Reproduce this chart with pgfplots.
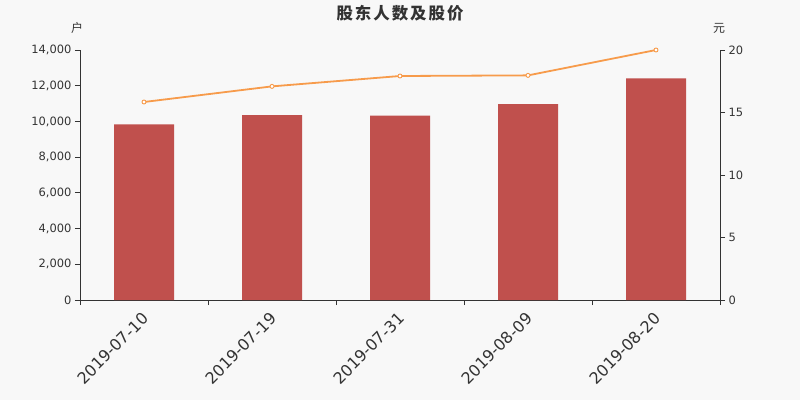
\documentclass[border=0pt]{standalone}
\usepackage{fontspec}
\setmainfont{DejaVu Sans}
\newfontfamily\cjk{Noto Sans CJK SC}
\usepackage{pgfplots}
\pgfplotsset{compat=1.18}
\definecolor{bg}{HTML}{F8F8F8}
\definecolor{barred}{HTML}{C0504D}
\definecolor{lineorange}{HTML}{F79B4B}
\definecolor{txt}{HTML}{333333}
\begin{document}
\begin{tikzpicture}[x=1bp,y=1bp]
\fill[bg] (-80,-100) rectangle (720,300);
\useasboundingbox (-80,-100) rectangle (720,300);
\begin{axis}[
    at={(0,0)}, anchor=south west,
    scale only axis,
    width=640bp, height=250bp,
    xmin=-0.5, xmax=4.5,
    ymin=0, ymax=14000,
    axis x line*=bottom,
    axis y line*=left,
    axis line style={txt, line width=0.8pt},
    tick align=outside,
    xtick={0,1,2,3,4},
    xticklabels={2019-07-10,2019-07-19,2019-07-31,2019-08-09,2019-08-20},
    major x tick style={draw=none},
    minor xtick={-0.5,0.5,1.5,2.5,3.5,4.5},
    minor tick length=5bp,
    minor x tick style={txt, line width=0.8pt},
    x tick label style={rotate=45, anchor=north east, font=\fontsize{16}{16}\selectfont, text=txt, yshift=1bp, xshift=-3bp},
    ytick={0,2000,...,14000},
    major tick length=5bp,
    y tick style={txt, line width=0.8pt},
    y tick label style={font=\fontsize{11.5}{12}\selectfont, text=txt},
    /pgf/number format/assume math mode=true,
    /pgf/number format/1000 sep={,},
    scaled y ticks=false,
    clip=false,
]
\addplot[ybar, bar width=60bp, fill=barred, draw=none] coordinates {
    (0,9840) (1,10360) (2,10320) (3,10976) (4,12410)
};
\end{axis}
\begin{axis}[
    at={(0,0)}, anchor=south west,
    scale only axis,
    width=640bp, height=250bp,
    xmin=-0.5, xmax=4.5,
    ymin=0, ymax=20,
    axis x line=none,
    axis y line*=right,
    axis line style={txt, line width=0.8pt},
    tick align=outside,
    ytick={0,5,10,15,20},
    major tick length=5bp,
    y tick style={txt, line width=0.8pt},
    y tick label style={font=\fontsize{11.5}{12}\selectfont, text=txt},
    /pgf/number format/assume math mode=true,
    clip=false,
]
\addplot[lineorange, line width=1.8bp, mark=*, mark size=2bp,
    mark options={fill=white, draw=lineorange, line width=0.9bp}] coordinates {
    (0,15.84) (1,17.09) (2,17.92) (3,17.97) (4,20.0)
};
\end{axis}
\node[text=txt, font=\cjk\bfseries\fontsize{16.5}{17}\selectfont\addfontfeature{LetterSpace=12}] at (320,287) {股东人数及股价};
\node[text=txt, font=\cjk\fontsize{12}{12}\selectfont] at (-3,272) {户};
\node[text=txt, font=\cjk\fontsize{12}{12}\selectfont] at (639,272) {元};
\end{tikzpicture}
\end{document}
